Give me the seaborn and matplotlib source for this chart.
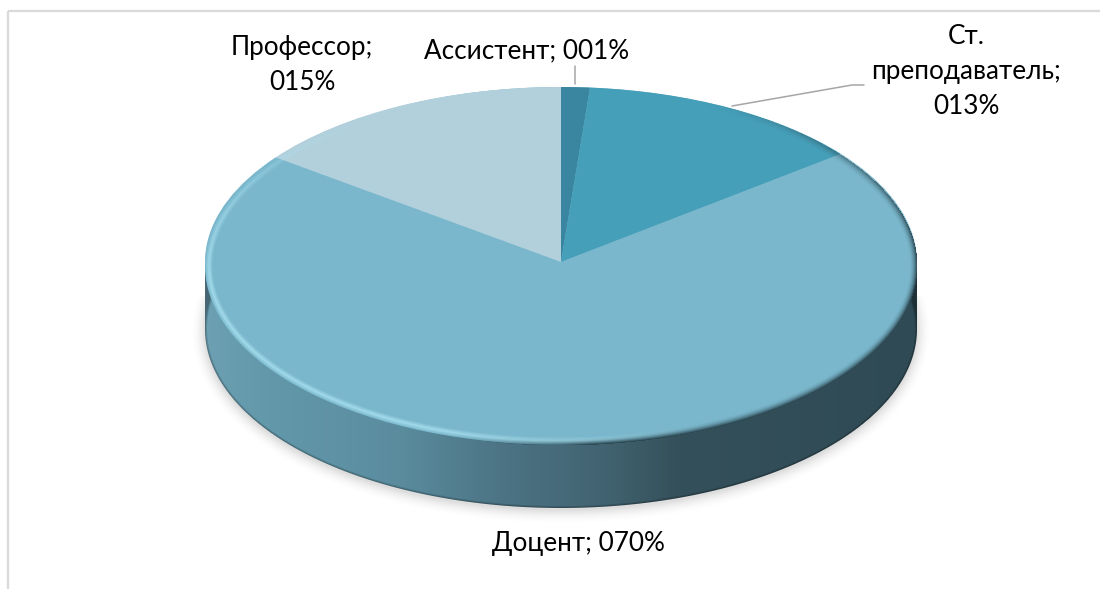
import numpy as np
import matplotlib
matplotlib.use("Agg")
import matplotlib.pyplot as plt
from matplotlib.patches import Ellipse
import seaborn as sns

names = ["Ассистент", "Ст. преподаватель", "Доцент", "Профессор"]
shown_percent = [1, 13, 70, 15]
slice_values = [1.3, 13.1, 70.8, 14.8]
label_texts = ["Ассистент; 001%", "Ст.\nпреподаватель;\n013%", "Доцент; 070%", "Профессор;\n015%"]
slice_colors = ["#3A86A0", "#459FB9", "#7AB7CC", "#B2D0DC"]

sns.set_theme(style="white")
plt.rcParams["font.family"] = ["Lato", "Open Sans", "DejaVu Sans"]

W, H = 1100, 589
CX, APEX_Y, RX, RY_UP = 561, 262, 356, 175
RIM_CY, RIM_RY, DEPTH = 266, 179, 63

fig = plt.figure(figsize=(W / 100, H / 100), dpi=100, facecolor="white")
ax = fig.add_axes([0, 0, 1, 1])

ax.pie(slice_values, colors=sns.color_palette(slice_colors), startangle=90,
       counterclock=False, wedgeprops=dict(linewidth=0, zorder=3))
ax.set_aspect("auto")
xlim = (-CX / RX, (W - CX) / RX)
ylim = (-(H - APEX_Y) / RY_UP, APEX_Y / RY_UP)


def xd(px):
    return (px - CX) / RX


def yd(py):
    return (APEX_Y - py) / RY_UP


px, py = np.meshgrid(np.arange(W) + 0.5, np.arange(H) + 0.5)


def signed_dist(cy):
    dx, dy = px - CX, py - cy
    r = np.sqrt((dx / RX) ** 2 + (dy / RIM_RY) ** 2) + 1e-9
    g = np.sqrt((dx / RX ** 2) ** 2 + (dy / RIM_RY ** 2) ** 2) / r + 1e-9
    return (r - 1) / g


def overlay(rgb, alpha, z):
    img = np.dstack([rgb[..., 0], rgb[..., 1], rgb[..., 2], np.clip(alpha, 0, 1)])
    ax.imshow(img, extent=(xlim[0], xlim[1], ylim[0], ylim[1]), origin="upper",
              aspect="auto", interpolation="nearest", zorder=z)


# soft drop shadow under the drum
d_bot = signed_dist(RIM_CY + DEPTH)
d_sh = signed_dist(RIM_CY + DEPTH + 2)
sh = 0.20 * np.clip(1 - d_sh / 15, 0, 1) ** 2 * (py > RIM_CY + 30) * (d_sh > -30)
overlay(np.full((H, W, 3), 0.35), sh, 0.5)

# side wall of the drum
stops_x = [205, 270, 400, 500, 600, 680, 917]
stops_r = [108, 98, 90, 76, 66, 52, 47]
stops_g = [160, 152, 140, 116, 100, 80, 74]
stops_b = [178, 170, 158, 132, 114, 90, 84]
wall = np.dstack([np.interp(px, stops_x, s) / 255 for s in (stops_r, stops_g, stops_b)])
edge = np.clip((2.5 + d_bot) / 2.5, 0, 1)[..., None]
wall = wall * (1 - 0.35 * edge)
a_ell = np.clip(0.5 - d_bot, 0, 1)
a_rect = ((py > RIM_CY) & (py < RIM_CY + DEPTH) & (np.abs(px - CX) < RX)).astype(float)
overlay(wall, np.maximum(a_ell, a_rect) * (py > RIM_CY), 1)

# top disc: lower half comes from this slightly deeper ellipse
ax.add_patch(Ellipse((xd(CX), yd(RIM_CY)), 2, 2 * RIM_RY / RY_UP,
                     facecolor=slice_colors[2], edgecolor="none", zorder=2))

# bevel along the rim of the disc
d_top = signed_dist(RIM_CY)
ang = np.arctan2(py - RIM_CY, px - CX)
band = np.clip(1 + d_top / 8, 0, 1) ** 2 * (d_top <= 0.5)
light_w = np.clip(np.cos(ang - np.deg2rad(130)) * 1.5, 0, 1) ** 1.5
dark_w = np.clip(np.cos(ang - np.deg2rad(40)) * 1.3, 0, 1) ** 1.5
bevel_light = np.array([0.68, 0.90, 0.96])
bevel_dark = np.array([0.18, 0.29, 0.33])
inner = np.clip(1 - np.abs(d_top + 4) / 4, 0, 1)
overlay(np.broadcast_to(bevel_light, (H, W, 3)), 0.75 * inner * light_w, 4)
overlay(np.broadcast_to(bevel_dark, (H, W, 3)), band * dark_w, 4.1)

# chart frame
ax.plot([xd(8), xd(8)], [yd(589), yd(11.5)], color="#D9D9D9", lw=1.6, zorder=5, solid_capstyle="butt")
ax.plot([xd(8), xd(1100)], [yd(11.5), yd(11.5)], color="#D9D9D9", lw=1.6, zorder=5, solid_capstyle="butt")

# leader lines
ax.plot([xd(575), xd(575)], [yd(66), yd(84)], color="#A6A6A6", lw=1.1, zorder=5)
ax.plot([xd(732), xd(852), xd(864)], [yd(106), yd(85), yd(85)], color="#A6A6A6", lw=1.1, zorder=5)

# labels
label_pos = [(527, 51), (966, 71), (578, 543), (302, 65)]
for text, (lx, ly) in zip(label_texts, label_pos):
    ax.text(xd(lx), yd(ly), text, ha="center", va="center", fontsize=18.8,
            color="black", linespacing=1.5, zorder=6)

ax.set_xlim(xlim)
ax.set_ylim(ylim)
ax.axis("off")
fig.savefig("out.png", dpi=100, facecolor="white")
